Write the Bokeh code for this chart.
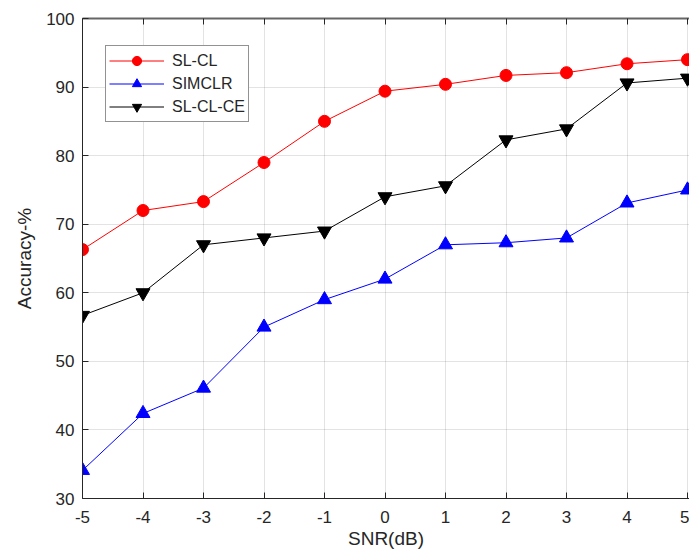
from bokeh.plotting import figure
from bokeh.models import Range1d, LinearAxis, FixedTicker, Legend, LegendItem
from bokeh.embed import file_html
from bokeh.resources import INLINE

snr = [-5, -4, -3, -2, -1, 0, 1, 2, 3, 4, 5]
sl_cl = [66.3, 72.0, 73.3, 79.0, 85.0, 89.4, 90.4, 91.7, 92.1, 93.4, 94.0]
simclr = [34.1, 42.4, 46.1, 55.0, 59.0, 62.0, 67.0, 67.3, 68.0, 73.1, 75.0]
sl_cl_ce = [56.7, 60.0, 67.0, 68.0, 69.0, 74.0, 75.6, 82.3, 83.9, 90.6, 91.3]
x_ticks = [-5, -4, -3, -2, -1, 0, 1, 2, 3, 4, 5]
x_tick_labels = ["-5", "-4", "-3", "-2", "-1", "0", "1", "2", "3", "4", "5"]
y_ticks = [30, 40, 50, 60, 70, 80, 90, 100]

FONT = "Liberation Sans"
AX = "#262626"

p = figure(width=689, height=557, output_backend="svg", toolbar_location=None,
           x_range=Range1d(-5, 5.033), y_range=Range1d(30, 100),
           min_border_left=82, min_border_right=0, min_border_top=18, min_border_bottom=59)
p.outline_line_color = None
p.background_fill_color = "white"
p.border_fill_color = "white"

for ax in (p.xaxis[0], p.yaxis[0]):
    ax.axis_line_color = AX
    ax.major_tick_line_color = AX
    ax.major_tick_in = 6
    ax.major_tick_out = 0
    ax.minor_tick_line_color = None
    ax.major_label_text_font = FONT
    ax.major_label_text_font_size = "17px"
    ax.major_label_text_color = AX
    ax.axis_label_text_font = FONT
    ax.axis_label_text_font_size = "19px"
    ax.axis_label_text_font_style = "normal"
    ax.axis_label_text_color = AX

p.xaxis.ticker = FixedTicker(ticks=x_ticks)
p.xaxis.major_label_overrides = {t: s for t, s in zip(x_ticks, x_tick_labels)}
p.yaxis.ticker = FixedTicker(ticks=y_ticks)
p.xaxis.axis_label = "SNR(dB)"
p.yaxis.axis_label = "Accuracy-%"
p.xaxis.major_label_standoff = 12
p.xaxis.axis_label_standoff = 2
p.yaxis.major_label_standoff = 8
p.yaxis.axis_label_standoff = 8

top = LinearAxis(ticker=FixedTicker(ticks=x_ticks),
                 major_label_overrides={t: "" for t in x_ticks},
                 axis_line_color="#666666", axis_line_width=2, major_tick_line_color=AX,
                 major_tick_in=6, major_tick_out=0, minor_tick_line_color=None,
                 major_label_standoff=0, major_label_text_font_size="1px")
p.add_layout(top, "above")

p.grid.grid_line_color = "#262626"
p.grid.grid_line_alpha = 0.13
p.grid.grid_line_width = 1

l1 = p.line(snr, sl_cl, line_color="red", line_width=1)
m1 = p.scatter(snr, sl_cl, marker="circle", size=12, fill_color="red", line_color="red")
l2 = p.line(snr, simclr, line_color="blue", line_width=1)
m2 = p.scatter(snr, simclr, marker="triangle", size=14, fill_color="blue", line_color="blue")
l3 = p.line(snr, sl_cl_ce, line_color="black", line_width=1)
m3 = p.scatter(snr, sl_cl_ce, marker="inverted_triangle", size=14, fill_color="black", line_color="black")

legend = Legend(items=[
    LegendItem(label="SL-CL", renderers=[l1, m1]),
    LegendItem(label="SIMCLR", renderers=[l2, m2]),
    LegendItem(label="SL-CL-CE", renderers=[l3, m3]),
], location=(23, 376))
legend.label_text_font = FONT
legend.label_text_font_size = "16px"
legend.label_text_color = AX
legend.glyph_width = 55
legend.glyph_height = 23
legend.spacing = 0
legend.padding = 3
legend.margin = 0
legend.label_standoff = 8
legend.border_line_color = AX
legend.border_line_width = 1
legend.background_fill_color = "white"
legend.background_fill_alpha = 1
p.add_layout(legend, "center")

open("out.html", "w").write(file_html(p, INLINE))
